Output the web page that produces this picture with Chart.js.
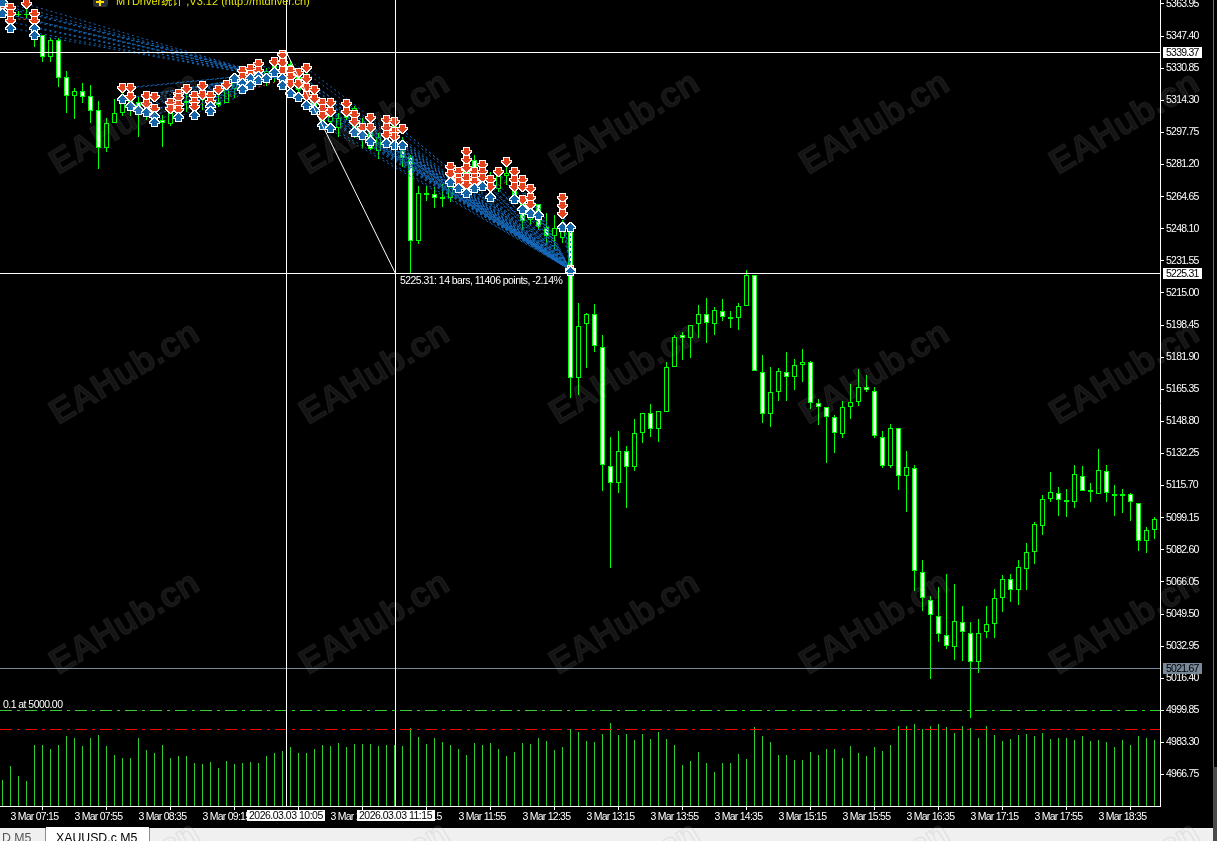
<!DOCTYPE html>
<html>
<head>
<meta charset="utf-8">
<title>XAUUSD.c M5</title>
<script src="https://cdn.jsdelivr.net/npm/chart.js@4/dist/chart.umd.min.js"></script>
<style>
html, body { margin: 0; padding: 0; background: #000; overflow: hidden; }
canvas { display: block; }
</style>
</head>
<body>
<canvas id="xau_chart" width="1217" height="841"></canvas>
<script>
const opens = [
  5363.94,5360.85,5358.27,5358.27,5355.69,5347.96,5336.62,5345.38,5326.31,5316.52,
  5319.09,5316.52,5309.30,5289.72,5302.59,5307.75,5314.45,5313.42,5310.33,5308.27,
  5304.14,5302.08,5307.75,5313.93,5312.39,5314.45,5315.48,5313.42,5312.90,5320.12,
  5322.18,5324.76,5328.89,5326.31,5328.89,5329.92,5333.01,5326.83,5322.18,5317.03,
  5311.87,5303.11,5300.02,5310.33,5296.41,5302.59,5298.99,5288.16,5294.87,5291.26,
  5288.68,5285.07,5241.77,5266.51,5266.00,5263.42,5263.94,5269.09,5273.22,5283.53,
  5271.67,5275.27,5268.58,5275.27,5274.76,5261.36,5252.60,5260.85,5248.99,5244.35,
  5243.32,5248.48,5171.16,5198.99,5204.15,5187.13,5125.80,5117.03,5133.52,5125.27,
  5142.80,5153.11,5144.87,5153.63,5176.82,5193.32,5191.77,5198.99,5204.15,5198.99,
  5205.69,5201.57,5202.08,5208.27,5224.25,5174.25,5152.60,5163.94,5174.25,5171.67,
  5177.85,5179.40,5158.26,5156.20,5151.05,5142.29,5156.20,5158.78,5166.51,5164.45,
  5140.74,5125.80,5145.38,5120.64,5124.76,5071.16,5056.72,5048.47,5038.68,5032.49,
  5045.38,5039.71,5024.76,5040.23,5044.35,5057.75,5067.55,5061.88,5072.70,5081.46,
  5094.87,5108.79,5111.87,5108.27,5107.24,5120.64,5113.42,5111.36,5123.22,5111.36,
  5110.33,5111.36,5106.72,5087.13,5092.80
];
const highs = [
  5366.00,5363.42,5360.33,5361.36,5359.81,5347.96,5346.42,5346.42,5329.40,5320.64,
  5323.21,5322.18,5313.93,5305.18,5314.97,5318.06,5317.03,5316.00,5312.39,5310.33,
  5306.72,5314.45,5316.52,5319.61,5318.06,5321.15,5317.03,5319.61,5323.21,5327.34,
  5328.89,5329.92,5330.95,5330.95,5334.04,5338.16,5335.07,5329.92,5330.95,5320.64,
  5314.45,5312.39,5307.75,5311.87,5311.36,5305.18,5301.57,5297.44,5303.11,5304.14,
  5295.38,5286.10,5270.12,5270.12,5269.61,5271.15,5274.76,5277.34,5280.95,5286.10,
  5280.95,5277.34,5278.37,5279.92,5277.34,5262.91,5262.91,5260.85,5256.20,5255.17,
  5252.60,5249.51,5209.81,5204.66,5209.30,5193.32,5140.74,5143.83,5136.09,5150.02,
  5153.11,5157.75,5154.15,5179.40,5193.32,5194.87,5198.47,5208.78,5212.40,5207.75,
  5211.88,5205.69,5209.81,5226.83,5224.25,5183.01,5176.82,5176.31,5184.56,5180.95,
  5186.10,5179.91,5160.33,5156.20,5152.08,5159.29,5168.06,5175.79,5172.70,5166.51,
  5143.83,5147.45,5145.38,5133.52,5126.31,5077.34,5058.78,5063.42,5070.12,5064.97,
  5053.63,5045.38,5046.93,5053.63,5062.39,5069.61,5070.12,5077.34,5086.10,5096.93,
  5110.84,5122.70,5115.00,5113.94,5126.31,5125.80,5117.03,5134.56,5126.31,5116.00,
  5113.94,5111.87,5106.72,5094.36,5099.51
];
const lows = [
  5357.75,5350.54,5357.24,5356.72,5341.77,5334.04,5334.04,5321.15,5307.75,5304.66,
  5312.90,5302.59,5278.89,5287.65,5302.59,5306.21,5306.21,5295.38,5304.14,5301.57,
  5290.23,5301.05,5305.18,5308.27,5308.27,5309.30,5310.33,5310.84,5312.90,5315.48,
  5319.61,5320.64,5322.18,5321.67,5323.73,5322.18,5319.61,5315.48,5311.87,5308.27,
  5300.54,5300.02,5295.38,5304.14,5294.87,5289.72,5288.68,5284.04,5291.26,5288.68,
  5279.92,5225.28,5240.23,5262.39,5258.78,5259.30,5261.88,5266.51,5266.51,5269.09,
  5269.09,5265.48,5267.03,5270.64,5262.91,5247.44,5250.02,5247.44,5239.71,5237.65,
  5240.75,5160.85,5162.39,5176.31,5184.56,5112.90,5073.22,5111.87,5104.14,5123.22,
  5137.65,5140.74,5138.17,5153.63,5176.82,5180.43,5181.46,5191.77,5189.19,5193.32,
  5200.53,5196.93,5195.90,5208.27,5174.76,5147.96,5145.90,5159.29,5159.29,5164.97,
  5169.09,5155.18,5146.93,5127.34,5132.49,5140.23,5150.02,5156.72,5163.94,5140.23,
  5124.77,5124.77,5113.42,5102.08,5061.36,5051.05,5016.00,5035.07,5031.47,5025.79,
  5025.27,4995.90,5019.09,5037.13,5037.13,5050.54,5055.69,5054.14,5061.88,5075.28,
  5090.22,5107.24,5100.02,5099.51,5104.14,5112.90,5107.24,5111.36,5107.24,5100.02,
  5101.55,5097.44,5081.97,5080.94,5088.16
];
const closes = [
  5359.81,5353.63,5358.78,5358.78,5348.48,5336.62,5345.38,5325.80,5316.52,5319.09,
  5316.00,5308.78,5289.72,5302.59,5307.75,5312.90,5309.30,5307.24,5306.21,5303.11,
  5302.59,5307.75,5313.42,5312.90,5315.48,5317.03,5312.39,5311.87,5320.64,5325.80,
  5326.83,5328.37,5325.80,5329.40,5331.98,5336.10,5323.73,5319.61,5315.48,5310.33,
  5303.11,5310.33,5305.18,5305.18,5310.33,5295.38,5289.20,5295.38,5300.02,5301.57,
  5284.56,5241.77,5266.51,5265.48,5263.94,5264.45,5271.67,5274.24,5278.37,5276.82,
  5279.40,5268.06,5275.27,5276.82,5265.48,5252.08,5255.17,5248.99,5244.35,5248.48,
  5249.51,5171.16,5197.96,5204.15,5187.65,5126.31,5117.03,5133.52,5125.27,5142.80,
  5153.11,5144.87,5154.15,5176.82,5192.29,5191.77,5198.47,5204.15,5199.50,5206.21,
  5202.60,5202.60,5208.27,5224.25,5174.76,5152.60,5163.94,5174.76,5171.67,5177.85,
  5179.40,5158.26,5156.20,5151.05,5142.80,5156.20,5158.78,5166.51,5164.97,5141.26,
  5125.80,5145.38,5120.64,5125.27,5071.67,5057.75,5048.99,5039.20,5033.01,5045.89,
  5040.23,5024.76,5039.71,5044.35,5057.75,5067.55,5061.88,5073.73,5081.46,5095.90,
  5108.79,5112.39,5108.27,5107.24,5121.67,5112.90,5112.39,5123.73,5111.87,5110.33,
  5111.36,5107.24,5087.13,5092.80,5098.47
];
const volumes = [
  26,40,30,25,61,61,57,61,70,68,60,68,71,60,51,48,48,68,56,53,
  61,48,50,50,43,42,44,38,45,42,43,44,43,50,53,55,59,53,53,57,
  61,60,63,59,62,62,62,60,61,61,60,78,69,62,68,64,61,57,51,63,
  61,63,57,50,54,63,62,68,65,56,59,77,74,65,64,72,83,71,72,66,
  72,67,74,67,61,41,45,54,43,34,43,43,52,47,79,70,64,51,51,46,
  46,54,51,57,57,48,60,53,50,59,55,61,80,80,82,77,80,82,79,73,
  80,78,68,80,71,65,67,71,72,70,73,67,68,68,66,70,65,66,64,59,
  66,61,70,68,66
];

// trade arrows, pairs of bar index and price
const buyArrows = [
  [0,5365.0],[0,5359.3],[1,5351.6],[4,5351.6],[4,5348.0],
  [15,5315.0],[16,5311.4],[17,5309.8],[18,5308.3],[19,5306.7],[19,5303.6],[22,5305.7],[24,5307.2],
  [26,5311.4],[26,5308.8],[29,5326.3],[30,5323.7],[30,5320.6],[31,5325.8],[31,5322.2],[32,5327.3],
  [32,5324.8],[33,5325.8],[34,5328.9],
  [35,5325.8],[35,5322.2],[36,5318.1],[37,5316.5],[38,5311.9],[39,5309.3],[40,5301.6],[41,5300.5],
  [44,5298.0],[45,5296.9],[46,5293.8],[48,5292.3],[49,5291.3],[50,5291.3],
  [56,5272.7],[57,5269.1],[58,5267.0],[59,5269.1],[60,5270.6],[61,5264.5],[64,5263.9],[65,5258.3],
  [66,5256.7],[67,5255.2],[70,5249.5],[71,5249.5]
];
const sellArrows = [
  [0,5363.4],[1,5361.4],[1,5358.3],[1,5354.7],[3,5363.9],[4,5358.3],[4,5354.7],
  [15,5320.6],[16,5320.6],[16,5315.5],[18,5316.0],[18,5311.9],[19,5315.5],[19,5309.3],[21,5312.9],[21,5309.8],
  [22,5317.5],[22,5315.0],[22,5311.4],[22,5308.8],[23,5320.1],[24,5316.5],[24,5313.4],[24,5310.8],
  [25,5321.2],[25,5317.0],[26,5316.5],[26,5313.4],[27,5319.1],[28,5321.7],[30,5329.4],[30,5326.3],
  [31,5330.4],[31,5327.3],[32,5332.5],[32,5329.4],[34,5334.0],[35,5337.6],[35,5333.5],[35,5328.9],
  [36,5328.9],[36,5325.8],[36,5322.2],[37,5327.9],[37,5322.7],[38,5330.9],[38,5324.8],[38,5320.6],[38,5316.0],
  [39,5319.6],[39,5314.5],[40,5312.9],[40,5309.3],[40,5305.7],[41,5312.9],[41,5307.8],[43,5311.9],[43,5307.8],
  [44,5306.7],[44,5302.6],[45,5300.0],[46,5304.7],[46,5300.0],[48,5304.1],[48,5300.0],[48,5296.4],
  [49,5302.6],[49,5297.9],[49,5294.9],[50,5299.0],
  [56,5279.9],[56,5275.8],[57,5277.3],[57,5274.2],[57,5271.7],[58,5287.6],[58,5283.5],[58,5279.4],[58,5274.2],[58,5270.6],
  [59,5277.3],[59,5274.2],[59,5271.7],[60,5280.9],[60,5277.3],[60,5274.2],[61,5273.2],[61,5269.1],[62,5277.3],[63,5282.0],
  [64,5277.3],[64,5273.2],[64,5269.1],[65,5273.2],[65,5269.1],[65,5262.9],[66,5268.1],[66,5263.9],[66,5260.3],
  [70,5263.9],[70,5259.3],[70,5255.2],[71,5226.8]
];
const closeArrows = [[71,5226.8]];

// each fan of dotted trade lines closes at one point
const fanA = { bars: [0,4], closeBar: 35, closePrice: 5325.0 };
const fanB = { bars: [15,34], closeBar: 35, closePrice: 5328.9 };
const fanC = { bars: [35,71], closeBar: 71, closePrice: 5226.8 };
const redDashes = [
  [[2,5356.2],[4,5355.7]],
  [[23,5310.3],[35,5324.8]],
  [[61,5268.1],[64,5274.2]]
];

const yTicks = [5363.95,5347.40,5330.85,5314.30,5297.75,5281.20,5264.65,5248.10,5231.55,5215.00,5198.45,5181.90,5165.35,5148.80,5132.25,5115.70,5099.15,5082.60,5066.05,5049.50,5032.95,5016.40,4999.85,4983.30,4966.75];
const timeBars = [1,9,17,25,33,41,49,57,65,73,81,89,97,105,113,121,129,137];
const timeLabels = ["3 Mar 07:15","3 Mar 07:55","3 Mar 08:35","3 Mar 09:15","3 Mar 09:55","3 Mar 10:35","3 Mar 11:15","3 Mar 11:55","3 Mar 12:35","3 Mar 13:15","3 Mar 13:55","3 Mar 14:35","3 Mar 15:15","3 Mar 15:55","3 Mar 16:35","3 Mar 17:15","3 Mar 17:55","3 Mar 18:35"];

const GREEN = "#00ff00";
const VOL_GREEN = "#32cd32";
const AXIS_FAMILY = '"Liberation Sans",sans-serif';
const SMALL_FONT = '10.5px "Liberation Sans",sans-serif';

// arrow bitmaps used as point styles, one pixel white rim like the terminal draws
let makeArrow = function(color, up) {
    const c = document.createElement("canvas");
    c.width = 11;
    c.height = 11;
    const g = c.getContext("2d");
    const rows = [0,1,2,3,4,2,2,2];
    let pixels = [];
    rows.forEach(function(hw, r){
        for(let k = -hw; k <= hw; k++){
            pixels.push([5 + k, up ? 2 + r : 8 - r]);
        }
    });
    g.fillStyle = "#ffffff";
    pixels.forEach(function(p){ g.fillRect(p[0] - 1, p[1] - 1, 3, 3); });
    g.fillStyle = color;
    pixels.forEach(function(p){ g.fillRect(p[0], p[1], 1, 1); });
    return c;
};

let toPoints = function(list) {
    return list.map(function(p){ return {x: p[0], y: p[1]}; });
};

let fanLines = function(fan) {
    let pts = [];
    buyArrows.concat(sellArrows).forEach(function(p){
        if(p[0] >= fan.bars[0] && p[0] <= fan.bars[1] && !(p[0] == fan.closeBar && p[1] == fan.closePrice)){
            pts.push({x: p[0], y: p[1]});
            pts.push({x: fan.closeBar, y: fan.closePrice});
            pts.push({x: fan.closeBar, y: null});
        }
    });
    return pts;
};

let dottedLine = function(label, data, color) {
    return {
        type: "line",
        label: label,
        data: data,
        borderColor: color,
        borderWidth: 1,
        borderDash: [2, 3],
        pointRadius: 0,
        spanGaps: false,
        tension: 0,
        order: 2
    };
};

const allBars = opens.map(function(v, i){ return i; });
const barDefaults = { grouped: false, barPercentage: 1, categoryPercentage: 1, inflateAmount: 0, borderSkipped: false };

let fixScale = function(scale, w, h) {
    if(w){ scale.width = w; }
    if(h){ scale.height = h; }
    scale.paddingTop = 0;
    scale.paddingBottom = 0;
    scale.paddingLeft = 0;
    scale.paddingRight = 0;
};

// price lines, tags, bottom tabs and the watermark
const mtChrome = {
    id: "mtChrome",
    beforeDraw(chart) {
        // the terminal font is narrower than anything installed
        chart.ctx.letterSpacing = "-0.75px";
    },
    beforeDatasetsDraw(chart) {
        // keep the arrow bitmaps on whole pixels
        chart.data.datasets.forEach(function(ds, n){
            if(ds.type == "scatter"){
                chart.getDatasetMeta(n).data.forEach(function(el){ el.y = Math.floor(el.y) + 0.5; });
            }
        });
    },
    afterDatasetsDraw(chart) {
        const ctx = chart.ctx;
        const x = chart.scales.x;
        const y = chart.scales.y;
        const a = chart.chartArea;
        let hLine = function(price, color, dash) {
            const py = Math.round(y.getPixelForValue(price)) + 0.5;
            ctx.save();
            ctx.strokeStyle = color;
            ctx.lineWidth = 1;
            ctx.setLineDash(dash || []);
            ctx.beginPath();
            ctx.moveTo(a.left, py);
            ctx.lineTo(a.right, py);
            ctx.stroke();
            ctx.restore();
        };
        hLine(5000.00, VOL_GREEN, [12, 5, 3, 5]);
        hLine(4990.23, "#ff0000", [12, 5, 3, 5]);
        hLine(5021.67, "#778899");
        hLine(5339.37, "#ffffff");
        hLine(5225.31, "#ffffff");

        const x1 = Math.round(x.getPixelForValue(35.4)) + 0.5;
        const x2 = Math.round(x.getPixelForValue(49)) + 0.5;
        const y1 = Math.round(y.getPixelForValue(5339.37)) + 0.5;
        const y2 = Math.round(y.getPixelForValue(5225.31)) + 0.5;
        ctx.save();
        ctx.strokeStyle = "#ffffff";
        ctx.lineWidth = 1;
        ctx.beginPath();
        ctx.moveTo(x1, a.top); ctx.lineTo(x1, a.bottom);
        ctx.moveTo(x2, a.top); ctx.lineTo(x2, a.bottom);
        ctx.moveTo(x1, y1); ctx.lineTo(x2, y2);
        ctx.stroke();

        ctx.font = SMALL_FONT;
        ctx.letterSpacing = "-0.55px";
        ctx.textBaseline = "middle";
        ctx.textAlign = "left";
        ctx.fillStyle = "#ffffff";
        ctx.fillText("5225.31: 14 bars, 11406 points, -2.14%", 400, 281);
        ctx.fillText("0.1 at 5000.00", 3, 705);

        // top label
        ctx.fillStyle = "#2b3038";
        ctx.beginPath();
        ctx.roundRect(93, -8, 15, 15, 3);
        ctx.fill();
        ctx.fillStyle = "#ffe000";
        ctx.fillRect(96, 1, 8, 2);
        ctx.fillRect(99, -2, 2, 8);
        ctx.font = '11px "Liberation Sans","Noto Sans CJK SC",sans-serif';
        ctx.letterSpacing = "0px";
        ctx.textBaseline = "alphabetic";
        ctx.fillStyle = "#e6e600";
        ctx.fillText("MTDriver统计 ,V3.12 (http://mtdriver.cn)", 116, 5);
        ctx.restore();
    },
    afterDraw(chart) {
        const ctx = chart.ctx;
        const y = chart.scales.y;
        let priceTag = function(price, bg, fg) {
            const py = Math.round(y.getPixelForValue(price));
            ctx.fillStyle = bg;
            ctx.fillRect(1163, py - 5, 39, 11);
            ctx.fillStyle = fg;
            ctx.fillText(price.toFixed(2), 1166, py + 1);
        };
        let timeTag = function(text, left, width) {
            ctx.fillStyle = "#ffffff";
            ctx.fillRect(left, 810, width, 11);
            ctx.fillStyle = "#000000";
            ctx.fillText(text, left + 2, 816);
        };
        ctx.save();
        ctx.font = SMALL_FONT;
        ctx.textAlign = "left";
        ctx.textBaseline = "middle";
        ctx.letterSpacing = "-0.75px";
        priceTag(5339.37, "#ffffff", "#000000");
        priceTag(5225.31, "#ffffff", "#000000");
        priceTag(5021.67, "#778899", "#000000");
        ctx.letterSpacing = "-0.5px";
        timeTag("2026.03.03 10:05", 247, 78);
        timeTag("2026.03.03 11:15", 357, 78);

        // scrollbar edge
        ctx.fillStyle = "#6e6e6e";
        ctx.fillRect(1213, 0, 1, 767);
        ctx.fillStyle = "#4a4a4a";
        ctx.fillRect(1213, 767, 4, 74);

        // tab strip
        ctx.letterSpacing = "0px";
        ctx.fillStyle = "#f0f0f0";
        ctx.fillRect(0, 828, 1213, 13);
        ctx.fillStyle = "#ffffff";
        ctx.fillRect(46, 827, 103, 14);
        ctx.fillStyle = "#8c8c8c";
        ctx.fillRect(45, 828, 1, 13);
        ctx.fillRect(149, 828, 1, 13);
        ctx.font = '12.3px "Liberation Sans",sans-serif';
        ctx.textBaseline = "alphabetic";
        ctx.fillStyle = "#555555";
        ctx.fillText("D M5", 2, 842);
        ctx.fillStyle = "#000000";
        ctx.fillText("XAUUSD.c M5", 56, 842);

        // watermark
        ctx.font = 'bold 35px "Liberation Sans",sans-serif';
        ctx.textAlign = "center";
        ctx.textBaseline = "middle";
        ctx.lineWidth = 1.5;
        for(let row = 0; row < 4; row++){
            for(let col = 0; col < 5; col++){
                ctx.save();
                ctx.translate(125 + col * 250, 124 + row * 250);
                ctx.rotate(-31 * Math.PI / 180);
                ctx.fillStyle = "rgba(255,255,255,0.08)";
                ctx.strokeStyle = "rgba(120,120,120,0.12)";
                ctx.fillText("EAHub.cn", 0, 0);
                ctx.strokeText("EAHub.cn", 0, 0);
                ctx.restore();
            }
        }
        ctx.restore();
    }
};

const xau_chart = new Chart(document.getElementById("xau_chart").getContext("2d"), {
    type: "bar",
    data: {
        datasets: [
            {
                type: "scatter",
                label: "sell",
                data: toPoints(sellArrows),
                pointStyle: makeArrow("#e2421e", false),
                pointRadius: 5,
                order: 1
            },
            {
                type: "scatter",
                label: "buy",
                data: toPoints(buyArrows.concat(closeArrows)),
                pointStyle: makeArrow("#1464aa", true),
                pointRadius: 5,
                order: 0
            },
            dottedLine("fan a", fanLines(fanA), "#1668b8"),
            dottedLine("fan b", fanLines(fanB), "#1668b8"),
            dottedLine("fan c", fanLines(fanC), "#1668b8"),
            dottedLine("red", redDashes.flatMap(function(s){
                return toPoints(s).concat([{x: s[1][0], y: null}]);
            }), "#e2421e"),
            Object.assign({
                label: "body",
                data: allBars.map(function(i){ return {x: i, y: [Math.min(opens[i], closes[i]), Math.max(opens[i], closes[i])]}; }),
                backgroundColor: allBars.map(function(i){ return closes[i] < opens[i] ? "#ffffff" : "#000000"; }),
                borderColor: GREEN,
                borderWidth: 1,
                maxBarThickness: 5,
                order: 3
            }, barDefaults),
            Object.assign({
                label: "wick",
                data: allBars.map(function(i){ return {x: i, y: [lows[i], highs[i]]}; }),
                backgroundColor: GREEN,
                borderWidth: 0,
                maxBarThickness: 1,
                order: 4
            }, barDefaults),
            Object.assign({
                label: "volume",
                yAxisID: "yVol",
                data: allBars.map(function(i){ return {x: i, y: volumes[i]}; }),
                backgroundColor: VOL_GREEN,
                borderWidth: 0,
                maxBarThickness: 1,
                order: 5
            }, barDefaults)
        ]
    },
    options: {
        responsive: false,
        animation: false,
        events: [],
        layout: { padding: 0, autoPadding: false },
        plugins: {
            legend: { display: false },
            tooltip: { enabled: false }
        },
        scales: {
            x: {
                type: "linear",
                offset: false,
                min: -0.3125,
                max: 144.6875,
                grid: { drawOnChartArea: false, drawTicks: true, tickLength: 4, tickColor: "#ffffff" },
                border: { color: "#ffffff" },
                afterBuildTicks: function(scale) {
                    scale.ticks = timeBars.map(function(v){ return {value: v}; });
                },
                afterFit: function(scale) { fixScale(scale, 0, 35); },
                ticks: {
                    autoSkip: false,
                    maxRotation: 0,
                    minRotation: 0,
                    align: "start",
                    padding: 2,
                    color: "#ffffff",
                    font: { family: AXIS_FAMILY, size: 10.5, lineHeight: 1 },
                    callback: function(v, n) { return timeLabels[n]; }
                }
            },
            y: {
                position: "right",
                min: 4950.536,
                max: 5366,
                grid: { drawOnChartArea: false, drawTicks: true, tickLength: 4, tickColor: "#ffffff" },
                border: { color: "#ffffff" },
                afterBuildTicks: function(scale) {
                    scale.ticks = yTicks.map(function(v){ return {value: v}; });
                },
                afterFit: function(scale) { fixScale(scale, 57, 0); },
                ticks: {
                    autoSkip: false,
                    padding: 2,
                    color: "#ffffff",
                    font: { family: AXIS_FAMILY, size: 10.5, lineHeight: 1 },
                    callback: function(v) { return v.toFixed(2); }
                }
            },
            yVol: {
                display: false,
                min: 0,
                max: 806
            }
        }
    },
    plugins: [mtChrome]
});
</script>
</body>
</html>
